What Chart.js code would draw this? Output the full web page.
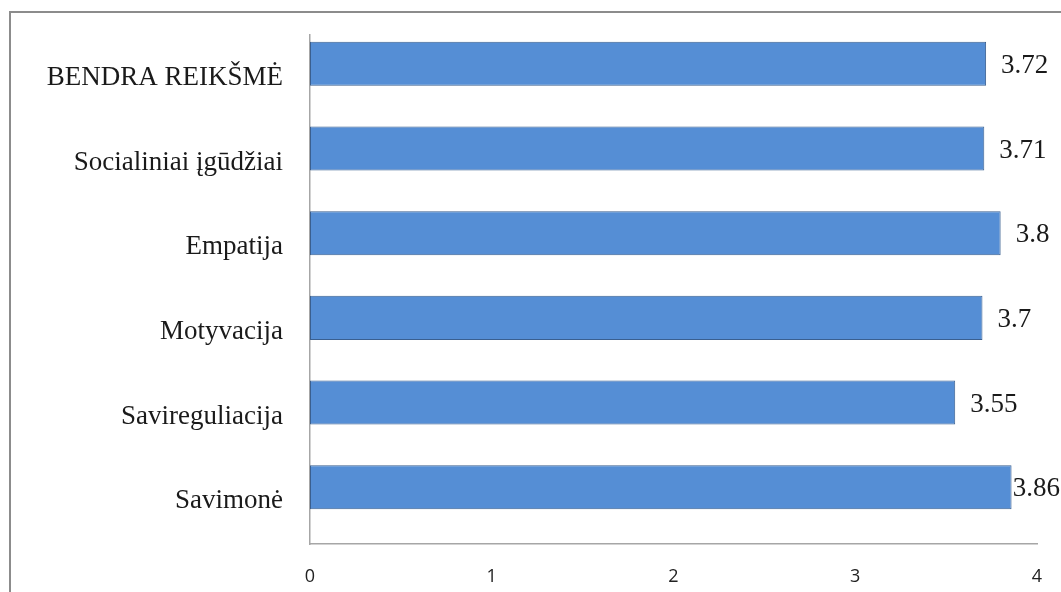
<!DOCTYPE html>
<html>
<head>
<meta charset="utf-8">
<script src="https://cdn.jsdelivr.net/npm/chart.js@4/dist/chart.umd.min.js"></script>
<style>
  html, body { margin: 0; padding: 0; background: #fff; }
  #wrap { width: 1061px; height: 592px; position: relative; }
</style>
</head>
<body>
<div id="wrap"><canvas id="c" width="1061" height="592"></canvas></div>
<script>
const categories = [
  'BENDRA REIKŠMĖ',
  'Socialiniai įgūdžiai',
  'Empatija',
  'Motyvacija',
  'Savireguliacija',
  'Savimonė'
];
const values = [3.72, 3.71, 3.8, 3.7, 3.55, 3.86];
const xTicks = [0, 1, 2, 3, 4];

const serif = '"Liberation Serif", "Times New Roman", serif';

// Outer frame around the whole chart object
const framePlugin = {
  id: 'frame',
  beforeDraw(chart) {
    const ctx = chart.ctx;
    ctx.save();
    ctx.strokeStyle = '#8c8c8c';
    ctx.lineWidth = 2;
    ctx.strokeRect(10, 12, 1100, 700);
    ctx.restore();
  }
};

// Value labels at the end of each bar
const valueLabels = {
  id: 'valueLabels',
  afterDatasetsDraw(chart) {
    const ctx = chart.ctx;
    const meta = chart.getDatasetMeta(0);
    ctx.save();
    ctx.font = '27px ' + serif;
    ctx.fillStyle = '#1a1a1a';
    ctx.textBaseline = 'middle';
    ctx.textAlign = 'left';
    meta.data.forEach((bar, i) => {
      const txt = String(values[i]);
      const w = ctx.measureText(txt).width;
      let x = bar.x + 15;
      if (x + w > chart.width - 1) x = chart.width - 1 - w;
      ctx.fillText(txt, x, bar.y + 2);
    });
    ctx.restore();
  }
};

new Chart(document.getElementById('c'), {
  type: 'bar',
  data: {
    datasets: [{
      data: values.map((v, i) => ({ x: v, y: i })),
      backgroundColor: '#558ed5',
      borderColor: '#3a5f8f',
      borderWidth: 1,
      borderSkipped: false,
      barPercentage: 0.52,
      categoryPercentage: 1
    }]
  },
  options: {
    indexAxis: 'y',
    responsive: false,
    animation: false,
    layout: { padding: { left: 0, right: 24, top: 35, bottom: 0 } },
    plugins: {
      legend: { display: false },
      tooltip: { enabled: false }
    },
    scales: {
      x: {
        type: 'linear',
        min: 0,
        max: 4,
        afterBuildTicks(axis) { axis.ticks = xTicks.map(v => ({ value: v })); },
        afterFit(axis) { axis.height = 48; axis.paddingLeft = 0; axis.paddingRight = 0; },
        grid: { display: false, drawTicks: false },
        border: { display: true, color: '#a6a6a6', width: 1.5 },
        ticks: {
          padding: 22,
          color: '#222',
          font: { family: '"Open Sans", "Liberation Sans", sans-serif', size: 18 }
        }
      },
      y: {
        type: 'linear',
        reverse: true,
        offset: false,
        min: -0.34,
        max: 5.67,
        afterBuildTicks(axis) { axis.ticks = categories.map((c, i) => ({ value: i })); },
        afterFit(axis) { axis.width = 310; axis.paddingTop = 0; axis.paddingBottom = 0; },
        grid: { display: false, drawTicks: false, offset: false },
        border: { display: true, color: '#a6a6a6', width: 1.5 },
        ticks: {
          padding: 27,
          labelOffset: 14,
          color: '#1a1a1a',
          autoSkip: false,
          callback: (v) => categories[v],
          font: { family: serif, size: 27 }
        }
      }
    }
  },
  plugins: [framePlugin, valueLabels]
});
</script>
</body>
</html>
